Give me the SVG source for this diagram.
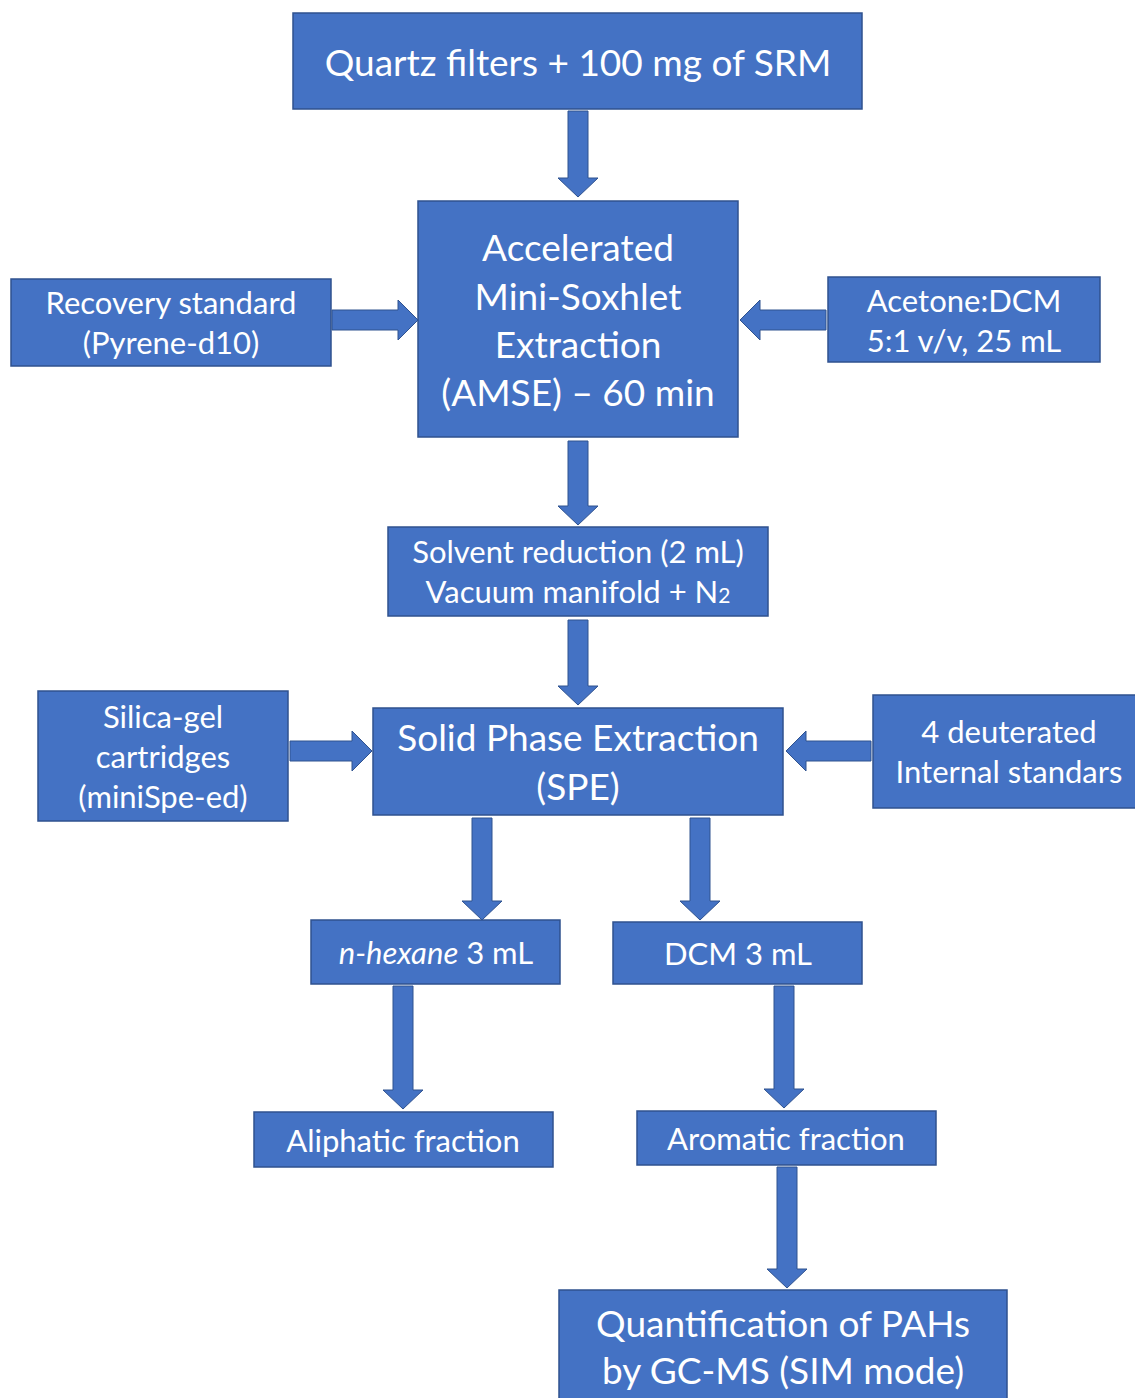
<svg xmlns="http://www.w3.org/2000/svg" width="1135" height="1398" viewBox="0 0 1135 1398">
<style>
.box{fill:#4472C4;stroke:#2F528F;stroke-width:1.5}
.arr{fill:#4472C4;stroke:#2F528F;stroke-width:1}
text{font-family:Lato,"Liberation Sans",sans-serif;fill:#FFFFFF;text-anchor:middle}
.big{font-size:37px}
.med{font-size:31px}
</style>
<rect width="1135" height="1398" fill="#FFFFFF"/>
<g id="connectors">
<path class="arr" d="M568,111 H588 V178 H598 L578,197 L558,178 H568 Z"/>
<path class="arr" d="M568,441 H588 V506 H598 L578,525 L558,506 H568 Z"/>
<path class="arr" d="M568,620 H588 V686 H598 L578,705 L558,686 H568 Z"/>
<path class="arr" d="M332,310 V330 H398 V340 L418,320 L398,300 V310 Z"/>
<path class="arr" d="M826,310 V330 H760 V340 L740,320 L760,300 V310 Z"/>
<path class="arr" d="M290,741 V761 H352 V771 L372,751 L352,731 V741 Z"/>
<path class="arr" d="M871,741 V761 H806 V771 L786,751 L806,731 V741 Z"/>
<path class="arr" d="M472,818 H492 V901 H502 L482,920 L462,901 H472 Z"/>
<path class="arr" d="M690,818 H710 V901 H720 L700,920 L680,901 H690 Z"/>
<path class="arr" d="M393,986 H413 V1090 H423 L403,1109 L383,1090 H393 Z"/>
<path class="arr" d="M774,986 H794 V1089 H804 L784,1108 L764,1089 H774 Z"/>
<path class="arr" d="M777,1167 H797 V1269 H807 L787,1288 L767,1269 H777 Z"/>
</g>
<g id="n1"><rect class="box" x="293" y="13" width="569" height="96"/><text class="big" x="578" y="76" font-size="37.5">Quartz filters + 100 mg of SRM</text></g>
<g id="n2"><rect class="box" x="418" y="201" width="320" height="236"/>
<text class="big" x="578" y="261">Accelerated</text>
<text class="big" x="578" y="310">Mini-Soxhlet</text>
<text class="big" x="578" y="358">Extraction</text>
<text class="big" x="578" y="406">(AMSE) – 60 min</text></g>
<g id="n3"><rect class="box" x="11" y="279" width="320" height="87"/>
<text class="med" x="171" y="314">Recovery standard</text>
<text class="med" x="171" y="354">(Pyrene-d10)</text></g>
<g id="n4"><rect class="box" x="828" y="277" width="272" height="85"/>
<text class="med" x="964" y="312">Acetone:DCM</text>
<text class="med" x="964" y="352">5:1 v/v, 25 mL</text></g>
<g id="n5"><rect class="box" x="388" y="527" width="380" height="89"/>
<text class="med" x="578" y="563">Solvent reduction (2 mL)</text>
<text class="med" x="578" y="603">Vacuum manifold + N<tspan font-size="21">2</tspan></text></g>
<g id="n6"><rect class="box" x="38" y="691" width="250" height="130"/>
<text class="med" x="163" y="728">Silica-gel</text>
<text class="med" x="163" y="768">cartridges</text>
<text class="med" x="163" y="808">(miniSpe-ed)</text></g>
<g id="n7"><rect class="box" x="373" y="708" width="410" height="107"/>
<text class="big" x="578" y="751">Solid Phase Extraction</text>
<text class="big" x="578" y="800">(SPE)</text></g>
<g id="n8"><rect class="box" x="873" y="695" width="265" height="113"/>
<text class="med" x="1009" y="743">4 deuterated</text>
<text class="med" x="1009" y="783">Internal standars</text></g>
<g id="n9"><rect class="box" x="311" y="920" width="249" height="64"/>
<text class="med" x="436" y="964"><tspan font-style="italic">n-hexane</tspan> 3 mL</text></g>
<g id="n10"><rect class="box" x="613" y="922" width="249" height="62"/>
<text class="med" x="738" y="965">DCM 3 mL</text></g>
<g id="n11"><rect class="box" x="254" y="1112" width="299" height="55"/>
<text class="med" x="403" y="1152">Aliphatic fraction</text></g>
<g id="n12"><rect class="box" x="637" y="1111" width="299" height="54"/>
<text class="med" x="786" y="1150">Aromatic fraction</text></g>
<g id="n13"><rect class="box" x="559" y="1290" width="448" height="112"/>
<text class="big" x="783" y="1337">Quantification of PAHs</text>
<text class="big" x="783" y="1384">by GC-MS (SIM mode)</text></g>
</svg>
